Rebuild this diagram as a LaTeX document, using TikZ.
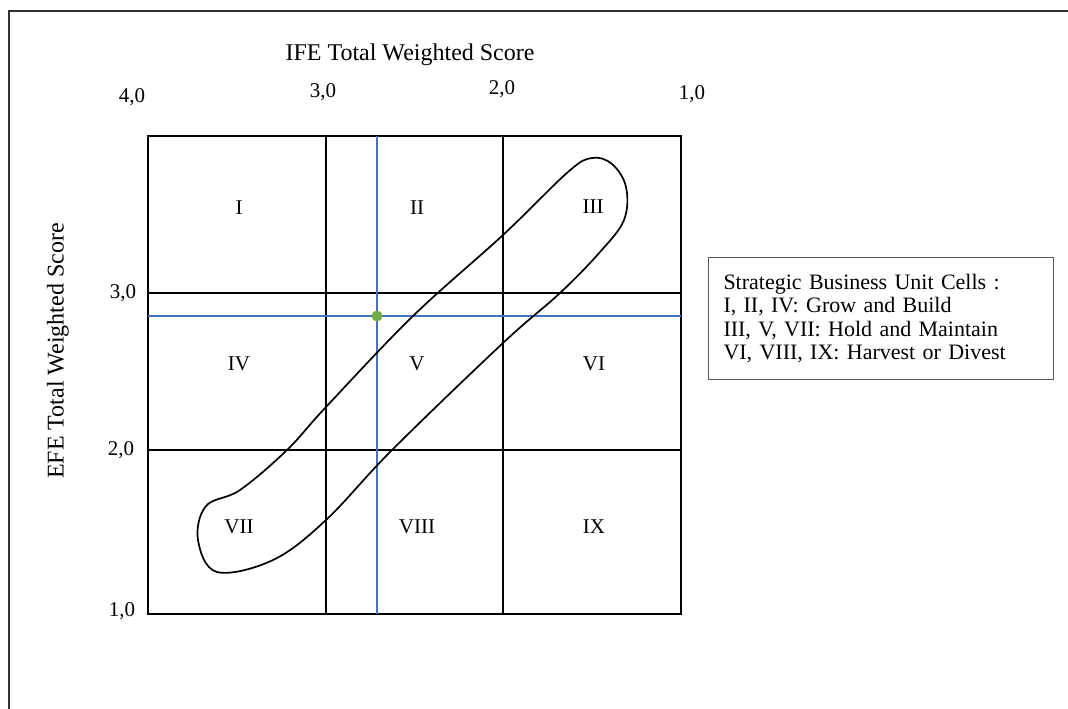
\documentclass[tikz,border=0pt]{standalone}
\usepackage{fontspec}
\setmainfont{Liberation Serif}
\definecolor{ublue}{RGB}{68,114,196}
\definecolor{ugreen}{RGB}{112,173,71}
\begin{document}
\begin{tikzpicture}[x=1pt,y=-1pt,
  gridline/.style={line width=1.8pt, black},
  blueline/.style={line width=2.6pt, ublue},
  celllabel/.style={font=\fontsize{21}{24}\selectfont, inner sep=0pt},
  ticklabel/.style={font=\fontsize{21}{24}\selectfont, inner sep=0pt},
  axtitle/.style={font=\fontsize{24}{28}\selectfont, inner sep=0pt},
  loopline/.style={line width=1.7pt, black},
]
\useasboundingbox (0,0) rectangle (1068,709);
% outer frame
\draw[line width=1.8pt, black!80] (9,715) -- (9,11) -- (1075,11);
% axis titles
\node[axtitle] (ifetitle) at (410,55) {IFE Total Weighted Score};
\node[axtitle, rotate=90] (efetitle) at (58,351) {EFE Total Weighted Score};
% top ticks
\node[ticklabel] (t4) at (132,97) {4,0};
\node[ticklabel] (t3) at (323,92) {3,0};
\node[ticklabel] (t2) at (502,89) {2,0};
\node[ticklabel] (t1) at (692,94) {1,0};
% left ticks
\node[ticklabel] (e3) at (123,293) {3,0};
\node[ticklabel] (e2) at (121,450) {2,0};
\node[ticklabel] (e1) at (122,611) {1,0};
% grid
\draw[gridline] (148,136) rectangle (681,614);
\draw[gridline] (326,136) -- (326,614) (503,136) -- (503,614)
  (148,293) -- (681,293) (148,450) -- (681,450);
% blue cross
\coordinate (bt) at (377,136);
\coordinate (bb) at (377,614);
\coordinate (bl) at (148,316);
\coordinate (br) at (681,316);
\draw[blueline] (bt) -- (bb);
\draw[blueline] (bl) -- (br);
\node[circle, fill=ugreen, minimum size=11pt, inner sep=0pt] (pt) at (377,316) {};
% cell labels
\node[celllabel] (c1) at (239,208) {I};
\node[celllabel] (c2) at (417,208) {II};
\node[celllabel] (c3) at (593,207) {III};
\node[celllabel] (c4) at (239,364) {IV};
\node[celllabel] (c5) at (417,364) {V};
\node[celllabel] (c6) at (594,364) {VI};
\node[celllabel] (c7) at (239,527) {VII};
\node[celllabel] (c8) at (417,527) {VIII};
\node[celllabel] (c9) at (594,527) {IX};
% loop
\draw[loopline] plot[smooth cycle, tension=0.6] coordinates {
  (592,158) (568,172) (503,235) (413,316) (326,407) (287,450)
  (240,490) (206,506) (198,540) (217,572) (273,560) (326,520)
  (392,450) (503,343) (560,293) (600,252) (624,220) (626,187) (612,164)};
% legend
\node[draw=black!65, line width=1pt, anchor=north west, minimum height=122pt,
  inner xsep=15pt, inner ysep=0pt, text width=315pt, align=left,
  font=\fontsize{22}{23.3}\selectfont] (legend) at (708,257)
  {Strategic Business Unit Cells :\\
   I, II, IV: Grow and Build\\
   III, V, VII: Hold and Maintain\\
   VI, VIII, IX: Harvest or Divest};
\end{tikzpicture}
\end{document}
